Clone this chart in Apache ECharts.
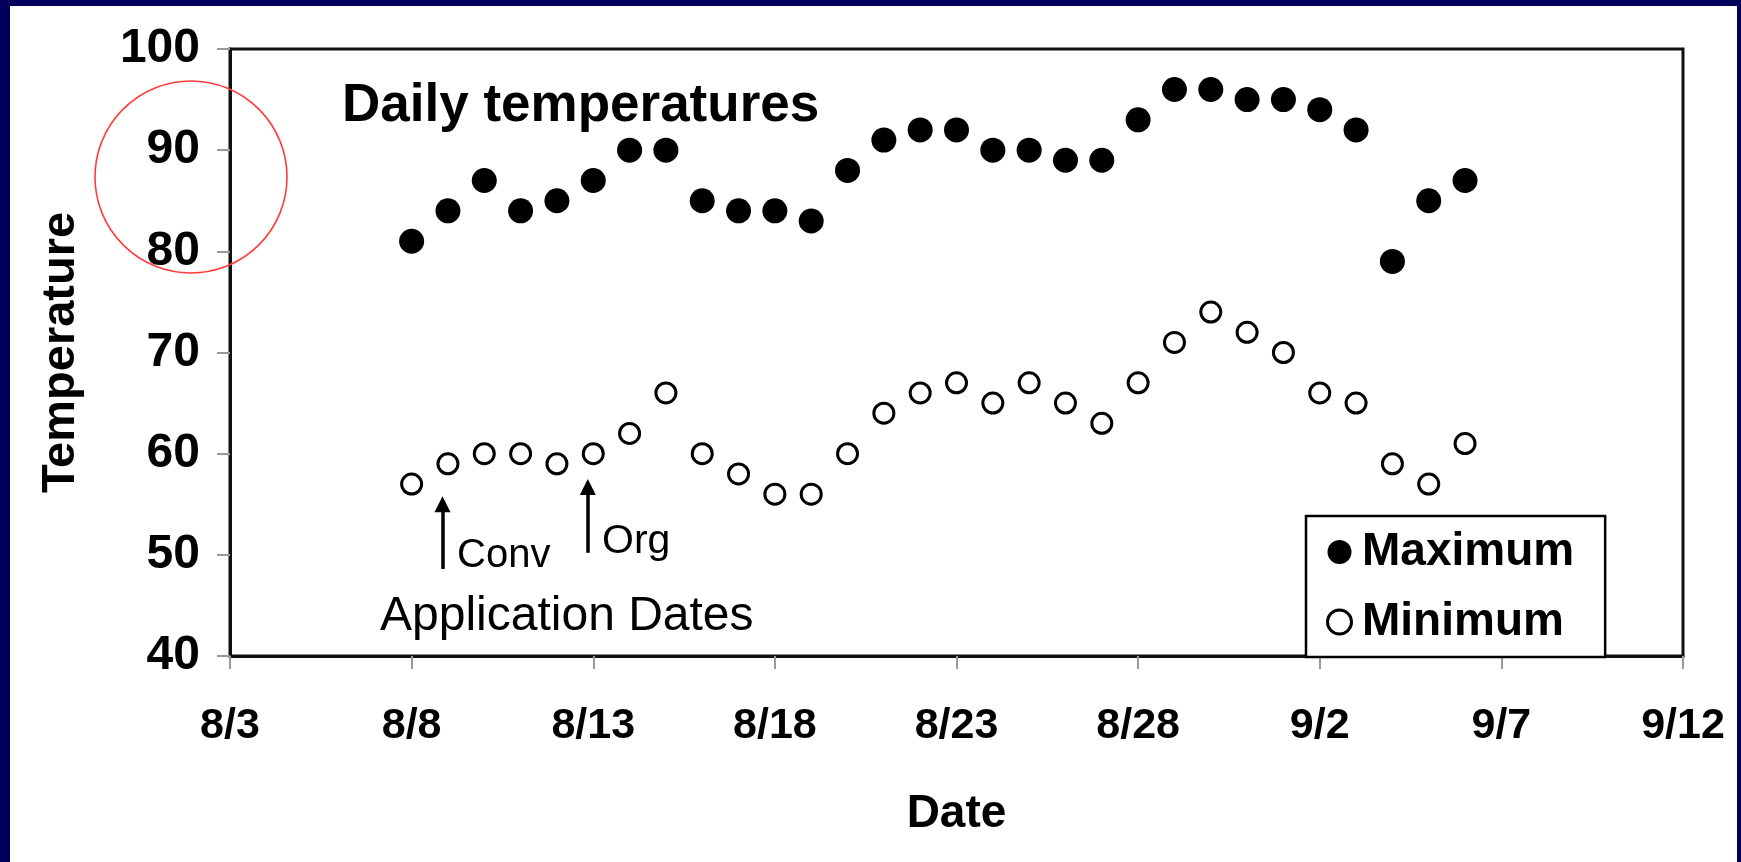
<!DOCTYPE html>
<html>
<head>
<meta charset="utf-8">
<script src="https://cdn.jsdelivr.net/npm/echarts@6/dist/echarts.min.js"></script>
<style>
html,body{margin:0;padding:0;background:#00005c;overflow:hidden;}
#c{width:1741px;height:862px;}
</style>
</head>
<body>
<div id="c"></div>
<script>
// ---------------- data ----------------
const dates = ['8/8','8/9','8/10','8/11','8/12','8/13','8/14','8/15','8/16','8/17',
  '8/18','8/19','8/20','8/21','8/22','8/23','8/24','8/25','8/26','8/27',
  '8/28','8/29','8/30','8/31','9/1','9/2','9/3','9/4','9/5','9/6'];
const maxTemps = [81,84,87,84,85,87,90,90,85,84,84,83,88,91,92,92,90,90,89,89,93,96,96,95,95,94,92,79,85,87];
const minTemps = [57,59,60,60,59,60,62,66,60,58,56,56,60,64,66,67,65,67,65,63,67,71,74,72,70,66,65,59,57,61];
const xTickLabels = ['8/3','8/8','8/13','8/18','8/23','8/28','9/2','9/7','9/12'];
const axisStartDate = '8/3';
const appNames = ['Conv','Org'];
const appDates = ['8/9','8/13'];
const appArrowFrom = [48.6, 50.2];
const appArrowTo = [55.0, 56.7];

const FONT = '"Liberation Sans", Arial, Helvetica, sans-serif';

function dayIndex(s) {
  const [m, d] = s.split('/').map(Number);
  const [m0, d0] = axisStartDate.split('/').map(Number);
  return Math.round((Date.UTC(2000, m - 1, d) - Date.UTC(2000, m0 - 1, d0)) / 86400000);
}

const maxData = dates.map((d, i) => [dayIndex(d), maxTemps[i]]);
const minData = dates.map((d, i) => [dayIndex(d), minTemps[i]]);
const arrowShift = -0.15;
const arrowLines = appDates.map((d, i) => [
  { coord: [dayIndex(d) + arrowShift, appArrowFrom[i]] },
  { coord: [dayIndex(d) + arrowShift, appArrowTo[i]] }
]);

const chart = echarts.init(document.getElementById('c'), null, { renderer: 'canvas' });

const option = {
  animation: false,
  backgroundColor: '#00005c',
  textStyle: { fontFamily: FONT },
  grid: {
    left: 230, right: 58, top: 49, bottom: 206,
    show: true, borderColor: '#111', borderWidth: 3, backgroundColor: '#fff'
  },
  xAxis: {
    type: 'value', min: 0, max: 40, interval: 5,
    axisLine: { show: true, onZero: false, lineStyle: { color: '#111', width: 3 } },
    axisTick: { show: true, length: 13, lineStyle: { color: '#999', width: 2 } },
    splitLine: { show: false },
    axisLabel: {
      margin: 49, fontSize: 43, fontWeight: 'bold', color: '#000', fontFamily: FONT,
      formatter: v => xTickLabels[Math.round(v / 5)]
    },
    name: 'Date', nameLocation: 'middle', nameGap: 135,
    nameTextStyle: { fontSize: 46, fontWeight: 'bold', color: '#000', fontFamily: FONT }
  },
  yAxis: {
    type: 'value', min: 40, max: 100, interval: 10,
    axisLine: { show: true, onZero: false, lineStyle: { color: '#111', width: 3 } },
    axisTick: { show: true, length: 13, lineStyle: { color: '#999', width: 2 } },
    splitLine: { show: false },
    axisLabel: { margin: 30, fontSize: 48, fontWeight: 'bold', color: '#000', fontFamily: FONT },
    name: 'Temperature', nameLocation: 'middle', nameGap: 145,
    nameTextStyle: { fontSize: 47, fontWeight: 'bold', color: '#000', fontFamily: FONT }
  },
  legend: {
    orient: 'vertical', left: 1306, top: 516,
    padding: [13, 31, 12, 20],
    itemWidth: 35, itemHeight: 24, itemGap: 24,
    backgroundColor: '#fff', borderColor: '#000', borderWidth: 2.5,
    z: 10,
    textStyle: { fontSize: 46, fontWeight: 'bold', color: '#000', fontFamily: FONT },
    data: [
      { name: 'Maximum', icon: 'circle', itemStyle: { color: '#000', borderWidth: 0, opacity: 1 } },
      { name: 'Minimum', icon: 'circle', itemStyle: { color: '#fff', borderColor: '#000', borderWidth: 3, opacity: 1 } }
    ]
  },
  series: [
    {
      name: 'Maximum', type: 'scatter', symbol: 'circle', symbolSize: 25,
      itemStyle: { color: '#000', opacity: 1 }, data: maxData, z: 3
    },
    {
      name: 'Minimum', type: 'scatter', symbol: 'circle', symbolSize: 20,
      itemStyle: { color: '#fff', borderColor: '#000', borderWidth: 3, opacity: 1 }, data: minData, z: 3,
      markLine: {
        silent: true, animation: false,
        symbol: ['none', 'triangle'], symbolSize: 16,
        lineStyle: { color: '#000', width: 3.5, type: 'solid', opacity: 1 },
        label: { show: false },
        emphasis: { disabled: true },
        data: arrowLines
      }
    }
  ],
  graphic: [
    { type: 'rect', z: -10, silent: true, shape: { x: 10, y: 6, width: 1727, height: 860 }, style: { fill: '#fff' } },
    { type: 'text', z: 50, silent: true, style: { x: 342, y: 106, text: 'Daily temperatures', font: 'bold 53px ' + FONT, fill: '#000', verticalAlign: 'middle', align: 'left' } },
    { type: 'text', z: 50, silent: true, style: { x: 457, y: 556, text: appNames[0], font: '40px ' + FONT, fill: '#000', verticalAlign: 'middle', align: 'left' } },
    { type: 'text', z: 50, silent: true, style: { x: 602, y: 542, text: appNames[1], font: '41px ' + FONT, fill: '#000', verticalAlign: 'middle', align: 'left' } },
    { type: 'text', z: 50, silent: true, style: { x: 380, y: 617, text: 'Application Dates', font: '48px ' + FONT, fill: '#000', verticalAlign: 'middle', align: 'left' } },
    { type: 'circle', z: 60, silent: true, shape: { cx: 191, cy: 177, r: 96 }, style: { fill: 'none', stroke: '#ff3b3b', lineWidth: 1.6 } }
  ]
};
chart.setOption(option);
</script>
</body>
</html>
